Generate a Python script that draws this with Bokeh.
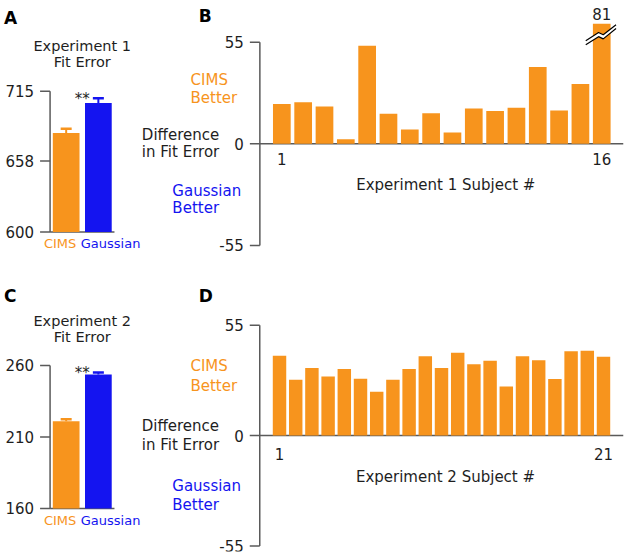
import numpy as np
from bokeh.plotting import figure
from bokeh.models import Range1d, Label, Whisker, TeeHead, ColumnDataSource
from bokeh.core.properties import value
from bokeh.layouts import row, column
from bokeh.embed import file_html
from bokeh.resources import INLINE

# ---------------- data ----------------
conditions = ["CIMS", "Gaussian"]
exp1_fit_error = [681.0, 705.4]
exp1_sem = [3.3, 3.9]
exp2_fit_error = [221.0, 253.6]
exp2_sem = [1.3, 1.5]
exp1_ticks = [600, 658, 715]
exp2_ticks = [160, 210, 260]

exp1_subjects = list(range(1, 17))
exp1_diff = [21.6, 22.5, 20.2, 2.5, 53.1, 16.2, 7.7, 16.5, 6.1, 19.1,
             17.8, 19.5, 41.6, 18.0, 32.4, 81.0]
exp2_subjects = list(range(1, 22))
exp2_diff = [39.8, 27.8, 33.7, 29.5, 33.2, 28.3, 21.8, 27.8, 33.2, 39.5,
             33.7, 41.3, 35.5, 37.3, 24.5, 39.5, 37.5, 28.2, 42.0, 42.3, 39.3]
diff_ticks = [-55, 0, 55]

# ---------------- style / layout ----------------
ORANGE = "#F7941D"
BLUE = "#1414F0"
AXIS = "#5a5a5a"
TEXT = "#1e1e1e"
FONT = "DejaVu Sans"
LEFT_W, RIGHT_W = 141, 485
ROW1_H, ROW2_H = 268, 287
FS = "15px"


def lab(p, x, y, text, xo=0, yo=0, align="center", size=FS, color=TEXT,
        style="normal", baseline="middle"):
    p.add_layout(Label(x=x, y=y, text=text, x_offset=xo, y_offset=yo,
                       text_align=align, text_baseline=baseline,
                       text_font=FONT, text_font_size=size,
                       text_color=color, text_font_style=style))


def base_fig(width, height, xr, yr, right=0):
    p = figure(width=width, height=height, x_range=Range1d(*xr), y_range=Range1d(*yr),
               x_axis_location=None, y_axis_location=None,
               output_backend="svg", toolbar_location=None,
               min_border_left=0, min_border_right=right,
               min_border_top=4, min_border_bottom=4)
    p.outline_line_color = None
    p.grid.visible = False
    p.background_fill_color = "white"
    p.border_fill_color = "white"
    return p


def y_axis(p, ax_x, ticks):
    n = len(ticks)
    p.segment(x0=[ax_x], y0=[ticks[0]], x1=[ax_x], y1=[ticks[-1]],
              line_color=AXIS, line_width=1.5)
    p.ray(x=[ax_x] * n, y=ticks, length=10, length_units="screen",
          angle=np.pi, line_color=AXIS, line_width=1.5)
    p.text(x=[ax_x] * n, y=ticks, text=[str(t) for t in ticks],
           x_offset=-16, text_align="right", text_baseline="middle",
           text_font=value(FONT), text_font_size=FS, text_color=TEXT)


def summary_panel(letter, exp_no, means, sems, ticks, height, yr,
                  letter_yo, title_yo):
    lo, hi = ticks[0], ticks[-1]
    p = base_fig(LEFT_W, height, (-2.04, 2.34), yr)
    xs = list(range(len(means)))
    colors = [ORANGE, BLUE]
    ax_x = xs[0] - 0.5

    y_axis(p, ax_x, ticks)
    p.segment(x0=[ax_x], y0=[lo], x1=[xs[-1] + 0.5], y1=[lo],
              line_color=AXIS, line_width=1.5)

    p.vbar(x=xs, bottom=lo, top=means, width=0.83, fill_color=colors, line_color=None)
    for x, m, s, c in zip(xs, means, sems, colors):
        src = ColumnDataSource(dict(x=[x], lower=[m], upper=[m + s]))
        p.add_layout(Whisker(source=src, base="x", lower="lower", upper="upper",
                             line_color=c, line_width=2, lower_head=None,
                             upper_head=TeeHead(size=11, line_color=c, line_width=2.5),
                             level="overlay"))

    mid = (xs[0] + xs[-1]) / 2
    lab(p, mid, hi, f"Experiment {exp_no}", yo=title_yo[0], size="14.5px")
    lab(p, mid, hi, "Fit Error", yo=title_yo[1], size="14.5px")
    lab(p, mid, hi, "**", yo=-8, baseline="alphabetic")
    lab(p, mid, lo, conditions[0], xo=-6, yo=-12, align="right", size="13px", color=ORANGE)
    lab(p, mid, lo, conditions[1], xo=-1.5, yo=-12, align="left", size="13px", color=BLUE)
    lab(p, ax_x, hi, letter, xo=-46, yo=letter_yo, align="left", size="17px",
        style="bold", color="black")
    return p


def diff_panel(letter, exp_no, subjects, diffs, height, xr, yr, lead, tick_yo,
               letter_yo, cap=None):
    p = base_fig(RIGHT_W, height, xr, yr, right=3)
    ax_x = subjects[0] - lead
    y_axis(p, ax_x, diff_ticks)
    p.segment(x0=[ax_x], y0=[0], x1=[xr[1]], y1=[0], line_color=AXIS, line_width=1.5)

    tops = [min(v, cap) for v in diffs] if cap is not None else list(diffs)
    p.vbar(x=subjects, bottom=0, top=tops, width=0.83, fill_color=ORANGE, line_color=None)

    if cap is not None:
        bx = [-0.75, -0.15, 0.07, 0.67]
        lower = [-11.4, -7.0, -8.2, -2.6]
        upper = [-9.2, -4.8, -6.0, -0.6]
        for s, v in zip(subjects, diffs):
            if v > cap:
                xs = [s + d for d in bx]
                yu = [cap + d for d in upper]
                yl = [cap + d for d in lower]
                p.patch(x=xs + xs[::-1], y=yu + yl[::-1], fill_color="white", line_color=None)
                p.line(x=xs, y=yu, line_color="black", line_width=1.2)
                p.line(x=xs, y=yl, line_color="black", line_width=1.2)
                lab(p, s, cap, f"{v:g}", yo=10)

    lab(p, subjects[0], 0, str(subjects[0]), yo=tick_yo)
    lab(p, subjects[-1], 0, str(subjects[-1]), yo=tick_yo)
    lab(p, (subjects[0] + subjects[-1]) / 2, 0, f"Experiment {exp_no} Subject #",
        xo=4, yo=-41)

    specs = [("CIMS", -69.3, 34.5, ORANGE), ("Better", -69.3, 24.8, ORANGE),
             ("Difference", -118, 4.7, TEXT), ("in Fit Error", -118, -4.7, TEXT),
             ("Gaussian", -87.5, -25.3, BLUE), ("Better", -87.5, -34.5, BLUE)]
    for t, xo, y, c in specs:
        lab(p, ax_x, y, t, xo=xo, align="left", color=c)
    lab(p, ax_x, diff_ticks[-1], letter, xo=-61, yo=letter_yo, align="left",
        size="17px", style="bold", color="black")
    return p


pA = summary_panel("A", 1, exp1_fit_error, exp1_sem, exp1_ticks, ROW1_H,
                   (573.4, 786.0), 73.5, (45.4, 29.0))
pB = diff_panel("B", 1, exp1_subjects, exp1_diff, ROW1_H, (-5.58, 17.02),
                (-65.35, 75.4), 1.03, -15, 25.7, cap=65)
pC = summary_panel("C", 2, exp2_fit_error, exp2_sem, exp2_ticks, ROW2_H,
                   (129.9, 325.0), 69.2, (44.7, 28.0))
pD = diff_panel("D", 2, exp2_subjects, exp2_diff, ROW2_H, (-7.52, 22.235),
                (-57.8, 81.3), 1.22, -18, 29)

layout = column(row(pA, pB), row(pC, pD))
open("out.html", "w").write(file_html(layout, INLINE))
